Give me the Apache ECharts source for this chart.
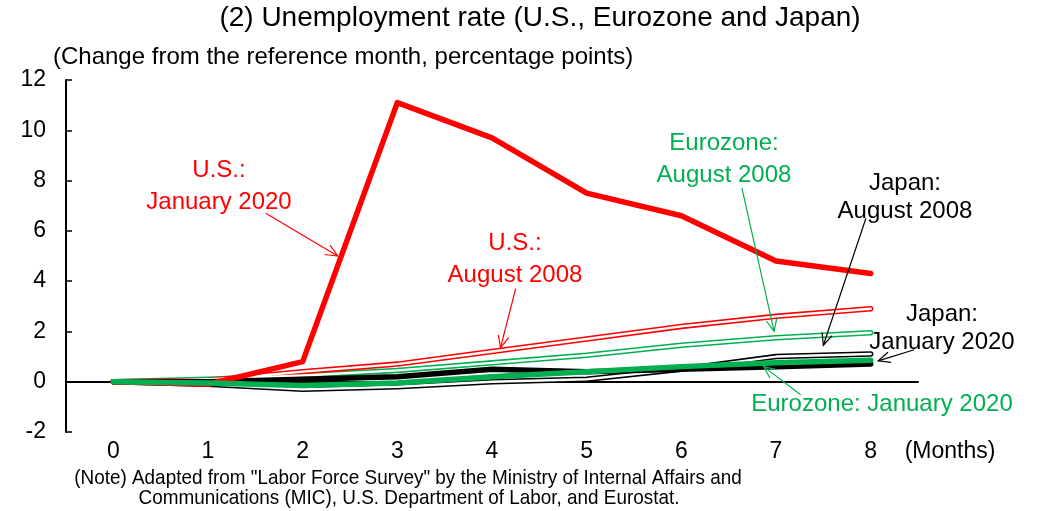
<!DOCTYPE html>
<html>
<head>
<meta charset="utf-8">
<script src="https://cdn.jsdelivr.net/npm/echarts@6/dist/echarts.min.js"></script>
<style>
  html, body { margin: 0; padding: 0; background: #fff; }
  #chart { width: 1038px; height: 511px; }
</style>
</head>
<body>
<div id="chart"></div>
<script>
const months = ['0', '1', '2', '3', '4', '5', '6', '7', '8']

// change from reference month, percentage points
const usJan2020 = [0, -0.1, 0.8, 11.1, 9.7, 7.5, 6.6, 4.8, 4.3]
const usAug2008 = [0, 0.05, 0.4, 0.7, 1.2, 1.7, 2.2, 2.6, 2.9]
const euAug2008 = [0, 0.1, 0.25, 0.45, 0.75, 1.05, 1.45, 1.75, 1.95]
const jpAug2008 = [0, -0.1, -0.3, -0.2, 0.0, 0.1, 0.5, 1.0, 1.1]
const jpJan2020 = [0, 0, 0.1, 0.2, 0.5, 0.4, 0.5, 0.6, 0.7]
const euJan2020 = [0, -0.05, -0.15, -0.05, 0.2, 0.4, 0.6, 0.75, 0.85]

const yTicks = { min: -2, max: 12, interval: 2 }

const RED = '#ff0000'
const GREEN = '#00b050'
const BLACK = '#000000'
const FONT = '"Liberation Sans", Arial, sans-serif'

// labels and arrows: arrow tail/tip in data coords [month, value]
const notes = [
  { lines: ['U.S.:', 'January 2020'], x: 219, y: 170, color: RED, from: [1.61, 6.7], to: [2.37, 5.0] },
  { lines: ['U.S.:', 'August 2008'], x: 515, y: 243, color: RED, from: [4.25, 3.7], to: [4.09, 1.35] },
  { lines: ['Eurozone:', 'August 2008'], x: 724, y: 143, color: GREEN, from: [6.64, 7.7], to: [6.98, 2.0] },
  { lines: ['Japan:', 'August 2008'], x: 905, y: 183, color: BLACK, from: [7.95, 6.5], to: [7.5, 1.45], lh: 28 },
  { lines: ['Japan:', 'January 2020'], x: 942, y: 314, color: BLACK, from: [8.46, 1.27], to: [8.08, 0.83], lh: 28 },
  { lines: ['Eurozone: January 2020'], x: 882, y: 404, color: GREEN, from: [7.26, -0.52], to: [6.87, 0.6] }
]

const chart = echarts.init(document.getElementById('chart'))

const doubleLine = (name, data, color) => [
  { name, type: 'line', data, symbol: 'none', silent: true, z: 2,
    lineStyle: { color, width: 5.5, cap: 'round', join: 'round' } },
  { name: name + '-core', type: 'line', data, symbol: 'none', silent: true, z: 3,
    lineStyle: { color: '#fff', width: 2.4, cap: 'round', join: 'round' } }
]
const thickLine = (name, data, color, z) => ({
  name, type: 'line', data, symbol: 'none', silent: true, z,
  lineStyle: { color, width: 5.5, cap: 'round', join: 'round' }
})

chart.setOption({
  animation: false,
  backgroundColor: '#fff',
  textStyle: { fontFamily: FONT },
  grid: { left: 66, top: 80, right: 120, bottom: 79 },
  xAxis: [
    {
      type: 'category', data: months, boundaryGap: true,
      axisLine: { onZero: true, lineStyle: { color: '#000', width: 2 } },
      axisTick: { show: false }, axisLabel: { show: false }
    },
    {
      type: 'category', data: months, boundaryGap: true, position: 'bottom',
      axisLine: { show: false, onZero: false }, axisTick: { show: false },
      axisLabel: { color: '#000', fontSize: 23, margin: 8, fontFamily: FONT }
    }
  ],
  yAxis: {
    type: 'value', min: yTicks.min, max: yTicks.max, interval: yTicks.interval,
    axisLine: { show: true, onZero: false, lineStyle: { color: '#000', width: 2 } },
    axisTick: { show: true, inside: true, length: 6, lineStyle: { color: '#000', width: 1.5 } },
    axisLabel: { color: '#000', fontSize: 23, margin: 20, fontFamily: FONT },
    splitLine: { show: false }
  },
  series: [
    ...doubleLine('Japan: August 2008', jpAug2008, BLACK),
    ...doubleLine('Eurozone: August 2008', euAug2008, GREEN),
    ...doubleLine('U.S.: August 2008', usAug2008, RED),
    thickLine('Japan: January 2020', jpJan2020, BLACK, 4),
    thickLine('U.S.: January 2020', usJan2020, RED, 5),
    thickLine('Eurozone: January 2020', euJan2020, GREEN, 6)
  ]
})

// category axis snaps to whole indices, so interpolate x between two of them
const x0 = chart.convertToPixel({ xAxisIndex: 0 }, 0)
const x1 = chart.convertToPixel({ xAxisIndex: 0 }, 1)
const toPx = d => [x0 + (x1 - x0) * d[0], chart.convertToPixel({ yAxisIndex: 0 }, d[1])]

const arrow = (p0, p1, color) => {
  const ang = Math.atan2(p1[1] - p0[1], p1[0] - p0[0])
  const L = 13, a = 0.42
  const w1 = [p1[0] - L * Math.cos(ang - a), p1[1] - L * Math.sin(ang - a)]
  const w2 = [p1[0] - L * Math.cos(ang + a), p1[1] - L * Math.sin(ang + a)]
  return [
    { type: 'polyline', silent: true, z: 10, shape: { points: [p0, p1] }, style: { stroke: color, lineWidth: 1.2, fill: null } },
    { type: 'polyline', silent: true, z: 10, shape: { points: [w1, p1, w2] }, style: { stroke: color, lineWidth: 1.2, fill: null } }
  ]
}

const graphics = [
  { type: 'text', x: 540, y: 18, style: { text: '(2) Unemployment rate (U.S., Eurozone and Japan)', font: '28px ' + FONT, fill: '#000', align: 'center', verticalAlign: 'middle' } },
  { type: 'text', x: 53, y: 57, style: { text: '(Change from the reference month, percentage points)', font: '24px ' + FONT, fill: '#000', verticalAlign: 'middle' } },
  { type: 'text', x: 950, y: 452, style: { text: '(Months)', font: '23px ' + FONT, fill: '#000', align: 'center', verticalAlign: 'middle' } },
  { type: 'text', x: 408, y: 478, scaleX: 0.9, style: { text: '(Note) Adapted from "Labor Force Survey" by the Ministry of Internal Affairs and', font: '21px ' + FONT, fill: '#000', align: 'center', verticalAlign: 'middle' } },
  { type: 'text', x: 409, y: 498, scaleX: 0.9, style: { text: 'Communications (MIC), U.S. Department of Labor, and Eurostat.', font: '21px ' + FONT, fill: '#000', align: 'center', verticalAlign: 'middle' } }
]

notes.forEach(n => {
  const lh = n.lh || 32
  n.lines.forEach((t, i) => {
    graphics.push({ type: 'text', x: n.x, y: n.y + i * lh, z: 11,
      style: { text: t, font: '24px ' + FONT, fill: n.color, align: 'center', verticalAlign: 'middle' } })
  })
  graphics.push(...arrow(toPx(n.from), toPx(n.to), n.color))
})

chart.setOption({ graphic: graphics })
</script>
</body>
</html>
